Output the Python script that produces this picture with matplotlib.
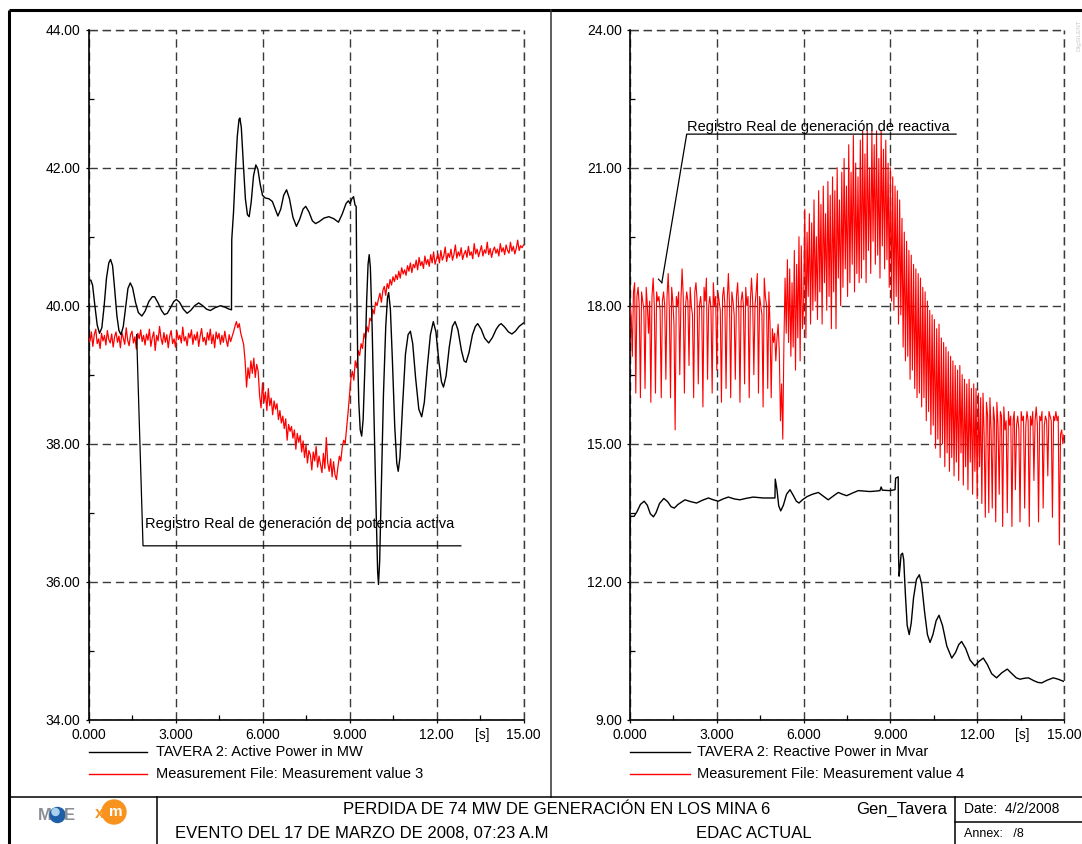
import numpy as np
import matplotlib
matplotlib.use("Agg")
import matplotlib.pyplot as plt
from matplotlib.ticker import FixedLocator, FixedFormatter
from matplotlib.patches import Circle

plt.rcParams['font.family'] = ['Liberation Sans', 'DejaVu Sans']

W, H = 1082, 844

# ---- active power: simulation (TAVERA 2) ----
sim_p_t = [0.00, 0.08, 0.14, 0.22, 0.30, 0.38, 0.46, 0.54, 0.62, 0.70, 0.76, 0.83, 0.90, 0.98, 1.05, 1.12, 1.20, 1.28, 1.36, 1.44,
           1.52, 1.62, 1.72, 1.84, 1.95, 2.08, 2.20, 2.28, 2.40, 2.52, 2.62, 2.72, 2.84, 2.94, 3.03, 3.14, 3.27, 3.40, 3.52, 3.66,
           3.80, 3.94, 4.07, 4.20, 4.36, 4.55, 4.70, 4.85, 4.93, 4.94, 5.00, 5.06, 5.13, 5.19, 5.22, 5.27, 5.34, 5.41, 5.48, 5.54,
           5.61, 5.69, 5.77, 5.84, 5.92, 6.00, 6.10, 6.22, 6.34, 6.44, 6.53, 6.63, 6.73, 6.83, 6.93, 7.05, 7.17, 7.28, 7.40, 7.49,
           7.60, 7.72, 7.83, 7.96, 8.12, 8.29, 8.46, 8.62, 8.75, 8.88, 8.96, 9.02, 9.08, 9.14, 9.19, 9.23, 9.25, 9.28, 9.32, 9.37,
           9.42, 9.47, 9.53, 9.59, 9.64, 9.68, 9.72, 9.78, 9.85, 9.92, 9.97, 10.00, 10.04, 10.10, 10.17, 10.25, 10.31, 10.35, 10.41, 10.48,
           10.56, 10.63, 10.68, 10.74, 10.83, 10.93, 11.02, 11.10, 11.18, 11.28, 11.39, 11.49, 11.58, 11.68, 11.79, 11.89, 11.98, 12.08, 12.17, 12.24,
           12.33, 12.44, 12.55, 12.64, 12.74, 12.86, 12.95, 13.02, 13.12, 13.24, 13.34, 13.42, 13.54, 13.66, 13.80, 13.93, 14.06, 14.16, 14.23, 14.35,
           14.48, 14.60, 14.72, 14.85, 15.00]
sim_p = [40.37, 40.37, 40.30, 40.00, 39.72, 39.60, 39.68, 40.00, 40.40, 40.62, 40.67, 40.58, 40.25, 39.85, 39.64, 39.58, 39.70, 39.98, 40.25, 40.33,
         40.26, 40.05, 39.90, 39.85, 39.92, 40.06, 40.13, 40.13, 40.04, 39.93, 39.87, 39.89, 39.98, 40.06, 40.09, 40.05, 39.95, 39.89, 39.93, 40.00,
         40.04, 40.00, 39.95, 39.93, 39.97, 40.00, 39.98, 39.95, 39.94, 40.96, 41.35, 41.90, 42.45, 42.70, 42.72, 42.58, 42.05, 41.55, 41.32, 41.29,
         41.50, 41.88, 42.04, 41.98, 41.76, 41.60, 41.56, 41.55, 41.51, 41.40, 41.30, 41.40, 41.60, 41.68, 41.55, 41.28, 41.15, 41.25, 41.40, 41.44,
         41.36, 41.23, 41.19, 41.22, 41.27, 41.29, 41.26, 41.21, 41.33, 41.48, 41.52, 41.48, 41.55, 41.58, 41.46, 41.44, 40.40, 39.30, 38.60, 38.20,
         38.11, 38.35, 39.10, 40.05, 40.60, 40.74, 40.55, 39.70, 38.30, 37.00, 36.15, 35.96, 36.30, 37.40, 38.70, 39.70, 40.12, 40.19, 39.95, 39.20,
         38.25, 37.72, 37.60, 37.80, 38.55, 39.30, 39.58, 39.63, 39.45, 38.95, 38.50, 38.39, 38.60, 39.10, 39.58, 39.77, 39.62, 39.20, 38.90, 38.82,
         38.98, 39.40, 39.70, 39.77, 39.65, 39.35, 39.20, 39.18, 39.32, 39.58, 39.70, 39.74, 39.66, 39.53, 39.46, 39.54, 39.66, 39.72, 39.74, 39.69,
         39.62, 39.59, 39.63, 39.70, 39.75]

# ---- active power: measurement file, one sample every 0.05 s ----
meas_p_dt = 0.05
meas_p = [
    39.55, 39.48, 39.62, 39.41, 39.58, 39.66, 39.45, 39.52, 39.38, 39.60, 39.49, 39.57, 39.43, 39.64, 39.51, 39.46, 39.59, 39.40, 39.55, 39.62,
    39.47, 39.56, 39.39, 39.61, 39.53, 39.44, 39.68, 39.50, 39.42, 39.58, 39.63, 39.46, 39.55, 39.37, 39.60, 39.52, 39.65, 39.48, 39.57, 39.43,
    39.59, 39.50, 39.66, 39.41, 39.54, 39.62, 39.35, 39.57, 39.49, 39.70, 39.53, 39.44, 39.61, 39.47, 39.58, 39.39, 39.56, 39.64, 39.45, 39.52,
    39.40, 39.63, 39.51, 39.57, 39.46, 39.69, 39.49, 39.55, 39.42, 39.60, 39.53, 39.65, 39.44, 39.58, 39.50, 39.62, 39.41, 39.56, 39.67, 39.48,
    39.54, 39.43, 39.61, 39.50, 39.66, 39.45, 39.58, 39.39, 39.62, 39.52, 39.60, 39.44, 39.57, 39.47, 39.63, 39.50, 39.41, 39.58, 39.48, 39.55,
    39.62, 39.70, 39.77, 39.68, 39.74, 39.60, 39.52, 39.44, 39.20, 38.82, 39.10, 38.95, 39.20, 39.02, 39.24, 38.96, 39.15, 39.05, 38.70, 38.52,
    38.88, 38.60, 38.75, 38.48, 38.80, 38.55, 38.66, 38.42, 38.62, 38.50, 38.58, 38.35, 38.48, 38.30, 38.40, 38.22, 38.36, 38.05, 38.28, 38.18,
    38.25, 38.08, 38.20, 37.92, 38.15, 38.02, 38.12, 37.88, 38.04, 37.80, 37.98, 37.72, 37.90, 37.84, 37.62, 37.88, 37.75, 37.96, 37.66, 37.82,
    37.70, 37.58, 37.86, 37.64, 38.09, 37.72, 37.60, 37.78, 37.52, 37.74, 37.55, 37.48, 37.66, 37.82, 37.75, 37.95, 38.05, 38.00, 38.22, 38.45,
    38.70, 38.95, 39.05, 38.92, 39.20, 39.10, 39.35, 39.28, 39.45, 39.38, 39.60, 39.52, 39.70, 39.62, 39.82, 39.78, 39.95, 39.88, 40.05, 40.00,
    40.10, 40.18, 40.05, 40.22, 40.28, 40.15, 40.32, 40.25, 40.38, 40.30, 40.42, 40.35, 40.45, 40.38, 40.50, 40.40, 40.55, 40.46, 40.52, 40.44,
    40.58, 40.50, 40.62, 40.48, 40.60, 40.55, 40.66, 40.52, 40.70, 40.58, 40.64, 40.54, 40.72, 40.60, 40.67, 40.57, 40.74, 40.62, 40.78, 40.60,
    40.68, 40.75, 40.62, 40.80, 40.66, 40.72, 40.85, 40.64, 40.76, 40.70, 40.82, 40.66, 40.74, 40.88, 40.69, 40.78, 40.72, 40.84, 40.67, 40.75,
    40.80, 40.70, 40.86, 40.73, 40.78, 40.68, 40.90, 40.75, 40.82, 40.71, 40.79, 40.87, 40.72, 40.81, 40.76, 40.92, 40.74, 40.83, 40.70, 40.80,
    40.85, 40.76, 40.82, 40.72, 40.90, 40.78, 40.84, 40.74, 40.88, 40.80, 40.76, 40.92, 40.79, 40.86, 40.75, 40.83, 40.95, 40.80, 40.87, 40.84,
    40.88]

# ---- reactive power: simulation (TAVERA 2) ----
sim_q_t = [0.00, 0.01, 0.14, 0.24, 0.36, 0.49, 0.60, 0.70, 0.81, 0.90, 1.02, 1.17, 1.30, 1.42, 1.53, 1.66, 1.90, 2.10, 2.30, 2.50,
           2.71, 2.88, 3.05, 3.22, 3.40, 3.60, 3.80, 4.00, 4.26, 4.60, 5.01, 5.02, 5.08, 5.14, 5.21, 5.30, 5.41, 5.53, 5.64, 5.75,
           5.84, 5.96, 6.12, 6.30, 6.51, 6.68, 6.85, 7.02, 7.20, 7.35, 7.49, 7.70, 7.89, 8.10, 8.29, 8.50, 8.64, 8.68, 8.72, 8.98,
           9.16, 9.18, 9.27, 9.28, 9.30, 9.33, 9.37, 9.42, 9.46, 9.52, 9.58, 9.65, 9.72, 9.80, 9.90, 10.00, 10.08, 10.18, 10.28, 10.37,
           10.47, 10.58, 10.68, 10.80, 10.95, 11.12, 11.25, 11.36, 11.46, 11.60, 11.75, 11.92, 12.05, 12.21, 12.35, 12.50, 12.67, 12.85, 13.04, 13.20,
           13.35, 13.48, 13.62, 13.77, 13.95, 14.10, 14.23, 14.42, 14.63, 14.80, 15.00]
sim_q = [13.10, 13.42, 13.42, 13.52, 13.68, 13.75, 13.66, 13.48, 13.41, 13.50, 13.70, 13.81, 13.74, 13.63, 13.60, 13.68, 13.78, 13.74, 13.71, 13.77,
         13.82, 13.78, 13.75, 13.80, 13.84, 13.80, 13.78, 13.81, 13.84, 13.82, 13.82, 14.23, 14.00, 13.65, 13.54, 13.66, 13.90, 14.00, 13.88, 13.75,
         13.71, 13.78, 13.85, 13.90, 13.94, 13.86, 13.78, 13.86, 13.94, 13.90, 13.87, 13.93, 13.98, 13.97, 13.96, 13.97, 13.98, 14.06, 13.99, 13.98,
         14.00, 14.25, 14.28, 12.60, 12.12, 12.30, 12.59, 12.62, 12.48, 11.70, 11.05, 10.85, 11.10, 11.65, 12.05, 12.15, 11.95, 11.35, 10.85, 10.68,
         10.85, 11.15, 11.27, 11.05, 10.60, 10.34, 10.46, 10.63, 10.70, 10.55, 10.30, 10.17, 10.26, 10.34, 10.20, 10.00, 9.91, 10.02, 10.10, 10.00,
         9.91, 9.88, 9.90, 9.91, 9.85, 9.81, 9.80, 9.86, 9.91, 9.88, 9.83]

# ---- reactive power: measurement file, one sample every 0.04 s ----
meas_q_dt = 0.04
meas_q = [
    18.0, 17.8, 16.9, 18.3, 18.5, 16.1, 18.2, 18.4, 18.0, 16.0, 18.3, 18.1, 17.9, 16.2, 18.4, 18.0, 17.4, 18.1, 15.9, 18.2, 18.6, 18.0, 16.1, 18.3, 18.1,
    18.2, 17.9, 16.0, 18.1, 18.3, 18.0, 16.4, 18.2, 18.7, 17.9, 16.0, 18.4, 18.1, 17.6, 15.3, 18.2, 18.0, 18.3, 16.5, 18.1, 18.8, 18.2, 16.1, 18.0, 18.3,
    18.1, 16.7, 18.4, 18.0, 17.8, 16.0, 18.3, 18.5, 18.1, 16.3, 18.0, 18.2, 17.9, 15.8, 18.4, 18.1, 18.6, 16.4, 18.0, 18.2, 17.9, 16.1, 18.5, 18.0, 18.2,
    16.6, 18.3, 18.1, 17.9, 15.9, 18.2, 18.4, 18.0, 16.2, 18.1, 18.7, 18.0, 16.0, 18.3, 18.1, 17.8, 16.4, 18.2, 18.5, 17.9, 15.9, 18.1, 18.3, 18.0, 16.3,
    18.4, 18.0, 18.2, 16.0, 18.1, 18.6, 18.1, 16.5, 18.0, 18.3, 18.7, 16.1, 18.2, 18.0, 17.8, 15.8, 18.6, 18.2, 18.0, 16.2, 18.3, 17.6, 16.0, 17.5, 17.2,
    17.4, 16.8, 17.3, 17.6, 17.0, 15.5, 16.3, 15.1, 17.2, 18.6, 17.4, 19.0, 17.2, 18.8, 16.9, 18.5, 17.1, 19.2, 16.6, 18.9, 17.3, 19.5, 16.8, 19.3, 17.5,
    18.0, 20.1, 17.3, 19.6, 18.2, 20.0, 17.6, 19.8, 17.9, 20.3, 18.1, 19.5, 17.7, 20.5, 18.3, 20.2, 17.6, 20.6, 18.5, 20.0, 17.9, 20.7, 18.2, 20.4, 17.5,
    20.8, 18.3, 20.5, 17.5, 21.0, 18.6, 20.3, 18.0, 20.9, 18.4, 21.2, 18.8, 20.6, 18.2, 21.5, 18.5, 20.9, 18.9, 21.7, 18.3, 21.1, 18.7, 20.8, 18.5, 21.6,
    18.6, 21.8, 19.0, 21.3, 18.5, 21.8, 19.2, 21.0, 18.7, 21.8, 19.4, 21.5, 18.9, 21.8, 19.1, 21.2, 18.6, 21.8, 19.3, 21.4, 18.8, 21.6, 19.0, 21.1, 18.4,
    21.0, 18.1, 20.8, 17.9, 20.6, 18.2, 20.5, 17.6, 20.3, 17.8, 19.9, 17.1, 19.6, 16.8, 19.4, 16.9, 19.2, 16.4, 19.1, 16.6, 18.9, 16.2, 18.8, 16.0, 18.7,
    16.1, 18.6, 15.8, 18.4, 16.0, 18.3, 15.5, 18.1, 15.7, 17.9, 15.2, 17.8, 15.4, 17.7, 14.9, 17.5, 15.1, 17.6, 14.7, 17.3, 15.0, 17.2, 14.5, 17.1, 14.8,
    17.0, 14.4, 16.9, 14.7, 16.8, 14.3, 16.7, 14.6, 16.6, 14.2, 16.7, 14.8, 16.5, 14.1, 16.4, 14.5, 16.3, 14.0, 16.4, 14.6, 16.2, 13.9, 16.3, 14.4, 16.2,
    13.8, 16.1, 14.5, 16.0, 13.7, 16.1, 15.2, 13.4, 15.9, 15.6, 13.5, 16.0, 15.3, 13.6, 15.8, 15.5, 13.3, 15.9, 15.4, 13.9, 15.7, 15.6, 13.2, 15.8, 15.3,
    15.5, 13.5, 15.7, 15.4, 15.6, 13.2, 15.5, 15.7, 14.0, 15.4, 15.6, 15.3, 13.3, 15.7, 15.5, 15.6, 13.6, 15.4, 15.7, 15.5, 13.2, 15.6, 15.4, 15.7, 14.2,
    15.5, 15.8, 15.4, 13.3, 15.6, 15.5, 15.7, 13.6, 15.4, 15.6, 15.5, 14.3, 15.7, 15.6, 15.5, 13.4, 15.6, 15.5, 15.7, 15.5, 15.6, 12.8, 15.2, 15.3, 15.0,
    15.2]

x_ticks = [0, 3, 6, 9, 12, 15]
x_labels = ['0.000', '3.000', '6.000', '9.000', '12.00', '15.00']
p_ticks = [34, 36, 38, 40, 42, 44]
q_ticks = [9, 12, 15, 18, 21, 24]

legend_p = ['TAVERA 2: Active Power in MW', 'Measurement File: Measurement value 3']
legend_q = ['TAVERA 2: Reactive Power in Mvar', 'Measurement File: Measurement value 4']

RED = '#ff0000'
GRID = '#3a3a3a'


def box(x0, y0, x1, y1):
    # pixel box (top-left origin) -> figure fraction rect
    return [x0 / W, 1 - y1 / H, (x1 - x0) / W, (y1 - y0) / H]


def setup_axes(ax, yticks, ylim):
    ax.set_xlim(0, 15)
    ax.set_ylim(*ylim)
    ax.xaxis.set_major_locator(FixedLocator(x_ticks))
    ax.xaxis.set_major_formatter(FixedFormatter(x_labels))
    ax.xaxis.set_minor_locator(FixedLocator([1.5, 4.5, 7.5, 10.5, 13.5]))
    ax.yaxis.set_major_locator(FixedLocator(yticks))
    ax.yaxis.set_major_formatter(FixedFormatter(['%.2f' % v for v in yticks]))
    step = yticks[1] - yticks[0]
    ax.yaxis.set_minor_locator(FixedLocator([v + step / 2 for v in yticks[:-1]]))
    for s in ('top', 'right'):
        ax.spines[s].set_visible(False)
    for s in ('left', 'bottom'):
        ax.spines[s].set_linewidth(1.2)
        ax.spines[s].set_color('black')
    ax.tick_params(which='major', direction='out', length=2.2, width=0.9, pad=3.5,
                   labelsize=10, colors='black')
    ax.tick_params(which='minor', direction='in', length=3.5, width=0.9)
    ax.grid(which='major', color=GRID, lw=1.0, ls=(0, (6, 3.5)))
    ax.axhline(ylim[1], color=GRID, lw=1.0, ls=(0, (6, 3.5)), clip_on=False)
    ax.axvline(15, color=GRID, lw=1.0, ls=(0, (6, 3.5)), clip_on=False)
    ax.set_facecolor('none')
    ax.annotate('[s]', xy=(13.57, 0), xycoords=('data', 'axes fraction'),
                xytext=(0, -5.7), textcoords='offset points',
                ha='center', va='top', fontsize=10)


fig = plt.figure(figsize=(W / 100, H / 100), dpi=100)
bg = fig.add_axes([0, 0, 1, 1])
bg.set_xlim(0, W)
bg.set_ylim(H, 0)
bg.axis('off')

# sheet frame and title block
bg.plot([8.5, 8.5], [9.5, H], color='black', lw=2.2, solid_capstyle='butt')
bg.plot([8.5, W], [9.5, 9.5], color='black', lw=2.2, solid_capstyle='butt')
bg.plot([551, 551], [9.5, 797], color='#333333', lw=1.1)
bg.plot([8.5, W], [797, 797], color='black', lw=1.1)
bg.plot([157, 157], [797, H], color='black', lw=1.1)
bg.plot([955, 955], [797, H], color='black', lw=1.1)
bg.plot([955, W], [822, 822], color='black', lw=1.1)

bg.text(557, 809, 'PERDIDA DE 74 MW DE GENERACIÓN EN LOS MINA 6', ha='center', va='center', fontsize=12)
bg.text(902, 809, 'Gen_Tavera', ha='center', va='center', fontsize=12)
bg.text(964, 809, 'Date:  4/2/2008', ha='left', va='center', fontsize=10)
bg.text(175, 834, 'EVENTO DEL 17 DE MARZO DE 2008, 07:23 A.M', ha='left', va='center', fontsize=12)
bg.text(754, 834, 'EDAC ACTUAL', ha='center', va='center', fontsize=12)
bg.text(964, 834, 'Annex:   /8', ha='left', va='center', fontsize=9)
bg.text(1079, 35, 'DIgSILENT', rotation=90, ha='center', va='center', fontsize=4.5, color='#c8c8c8')

# logos
bg.text(45, 815, 'M', ha='center', va='center', fontsize=12, color='#8a8f96', fontweight='bold')
bg.add_patch(Circle((57.5, 815), 7.5, color='#1f5fa8', zorder=3))
bg.add_patch(Circle((55.5, 812), 3.5, color='#a9d2f0', zorder=3))
bg.text(69, 815, 'E', ha='center', va='center', fontsize=12, color='#8a8f96', fontweight='bold')
bg.add_patch(Circle((114, 812), 12, color='#f7931e', zorder=3))
bg.text(100, 813, 'x', ha='center', va='center', fontsize=12, color='#f7931e', fontweight='bold')
bg.text(116, 812, 'm', ha='center', va='center', fontsize=11, color='white', fontweight='bold', zorder=4)

# ---- left panel: active power ----
ax1 = fig.add_axes(box(88.5, 29.7, 523.5, 719.7))
setup_axes(ax1, p_ticks, (34, 44))
meas_p_t = np.arange(len(meas_p)) * meas_p_dt
ax1.plot(meas_p_t, meas_p, color=RED, lw=0.9, zorder=3)
ax1.plot(sim_p_t, sim_p, color='black', lw=1.0, zorder=4)
ax1.plot([1.66, 1.88, 12.84], [39.58, 36.52, 36.52], color='black', lw=0.9, zorder=5)
ax1.text(1.95, 36.84, 'Registro Real de generación de potencia activa', fontsize=10.5,
         ha='left', va='center', zorder=6)

# ---- right panel: reactive power ----
ax2 = fig.add_axes(box(630, 29.7, 1064, 719.7))
setup_axes(ax2, q_ticks, (9, 24))
meas_q_t = np.arange(len(meas_q)) * meas_q_dt
ax2.plot(sim_q_t, sim_q, color='black', lw=1.0, zorder=3)
ax2.plot(meas_q_t, meas_q, color=RED, lw=0.8, zorder=4)
ax2.plot([1.10, 1.96, 11.27], [18.50, 21.73, 21.73], color='black', lw=0.9, zorder=5)
ax2.plot([0.98, 1.10], [18.58, 18.50], color='black', lw=0.8, zorder=5)
ax2.text(1.98, 21.89, 'Registro Real de generación de reactiva', fontsize=10.5,
         ha='left', va='center', zorder=6)

# legends under each panel
for (x0, x1, xt), labels in (((89, 147, 156), legend_p), ((630, 690, 697), legend_q)):
    for y, color, label in zip((752, 774), ('black', RED), labels):
        bg.plot([x0, x1], [y, y], color=color, lw=1.0)
        bg.text(xt, y, label, ha='left', va='center', fontsize=10.5)

fig.savefig('out.png', dpi=100)
